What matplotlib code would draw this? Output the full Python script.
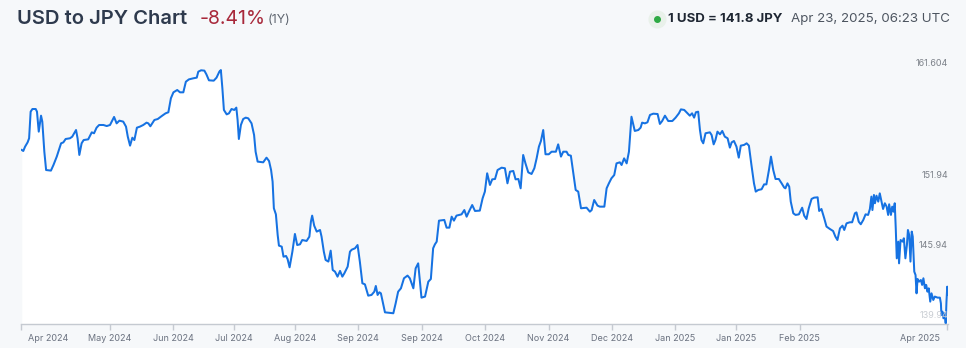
import matplotlib
matplotlib.use("Agg")
import matplotlib.pyplot as plt
import matplotlib.transforms as mtransforms
from matplotlib.lines import Line2D
import numpy as np
import pandas as pd

plt.rcParams['font.family'] = ['Inter', 'DejaVu Sans']

# Dados: dias desde 2024-04-23 e taxa USD/JPY
start = pd.Timestamp('2024-04-23')
days = [0.3, 0.9, 1.6, 2.6, 3.2, 3.8, 4.5, 5.8, 6.3, 7.0, 7.9, 8.4, 9.2, 9.9, 11.8, 12.8, 14.1, 15.8, 16.7, 17.6,
        19.3, 20.2, 21.7, 22.3, 23.0, 23.9, 24.7, 26.5, 27.9, 28.8, 29.8, 30.8, 32.5, 33.8, 35.1, 36.7, 37.7, 38.8,
        40.3, 41.4, 42.1, 43.0, 43.9, 44.7, 45.7, 46.9, 48.2, 49.5, 50.2, 51.0, 52.6, 53.9, 55.5, 57.0, 58.1, 59.1,
        60.1, 61.6, 62.7, 64.0, 65.0, 66.2, 67.9, 69.3, 69.9, 71.0, 72.3, 73.1, 74.1, 76.0, 77.1, 78.2, 78.8, 79.4,
        80.0, 81.1, 82.0, 83.0, 84.1, 84.9, 85.4, 85.9, 86.7, 87.6, 88.6, 89.6, 90.9, 91.9, 92.5, 93.3, 95.5, 96.8,
        97.8, 98.6, 99.2, 99.7, 100.5, 101.2, 101.7, 102.8, 103.5, 104.5, 105.1, 105.9, 107.0, 108.0, 108.9, 110.0,
        110.9, 112.6, 113.7, 114.3, 114.8, 115.6, 116.6, 117.9, 118.5, 119.4, 120.1, 121.2, 122.1, 122.9, 123.8,
        124.8, 125.8, 126.7, 127.5, 128.8, 129.7, 130.4, 131.7, 132.7, 133.6, 134.6, 135.6, 136.9, 138.2, 139.3,
        139.9, 140.6, 141.3, 141.9, 142.6, 143.5, 146.8, 147.7, 148.7, 149.8, 151.0, 152.4, 153.3, 154.7, 155.6,
        156.6, 157.3, 157.9, 159.3, 160.6, 161.6, 162.5, 163.2, 163.9, 164.8, 166.9, 167.8, 168.9, 169.8, 170.7,
        171.7, 173.7, 174.8, 175.7, 176.6, 177.9, 179.0, 180.9, 182.0, 182.9, 183.8, 184.9, 185.8, 186.9, 187.9,
        189.5, 190.8, 191.8, 192.8, 194.1, 195.0, 196.1, 197.0, 198.0, 198.9, 200.0, 201.3, 202.4, 203.3, 204.2,
        205.0, 205.9, 206.8, 208.1, 209.2, 210.9, 211.8, 212.9, 213.8, 215.1, 215.8, 216.8, 217.7, 218.7, 219.7,
        220.8, 223.0, 224.3, 225.0, 226.0, 227.3, 228.2, 230.0, 230.9, 231.8, 232.8, 233.9, 234.8, 236.1, 236.8,
        237.8, 238.8, 239.7, 240.7, 242.0, 243.4, 244.3, 244.9, 246.0, 247.0, 248.0, 249.3, 251.0, 251.9, 252.8,
        253.9, 255.2, 256.8, 258.1, 259.4, 260.2, 261.5, 262.4, 263.7, 264.6, 265.4, 266.1, 267.0, 267.7, 268.3,
        269.0, 269.9, 271.6, 272.3, 273.1, 273.8, 274.6, 275.6, 276.5, 277.5, 278.6, 279.5, 280.2, 281.1, 282.1,
        283.0, 283.8, 285.1, 286.1, 287.0, 288.0, 289.0, 289.7, 290.7, 292.0, 293.0, 293.9, 294.9, 295.7, 296.6,
        297.5, 298.8, 299.9, 300.9, 301.4, 302.2, 302.9, 303.5, 304.5, 305.4, 306.7, 308.0, 308.8, 309.7, 310.6,
        311.7, 312.7, 314.1, 314.7, 315.6, 316.7, 317.6, 318.9, 320.2, 321.1, 321.9, 322.9, 323.9, 324.6, 325.5,
        326.8, 327.7, 328.8, 329.4, 330.3, 331.1, 332.1, 333.0, 334.0, 334.7, 335.3, 335.7, 336.3, 336.7, 337.3,
        338.0, 338.6, 339.3, 339.9, 340.6, 341.3, 341.9, 342.3, 343.0, 343.5, 344.0, 344.5, 344.9, 345.3, 345.9,
        346.2, 346.8, 347.6, 348.1, 348.7, 349.3, 349.7, 350.2, 350.7, 351.2, 351.6, 352.2, 352.7, 353.1, 353.5,
        354.1, 354.8, 355.3, 355.8, 356.4, 356.9, 357.4, 357.9, 358.5, 359.0, 359.7, 360.3, 361.4, 362.3, 362.7,
        362.9, 363.3, 363.7, 364.2, 364.6, 364.9, 365.2, 365.4]
rate = [154.17, 154.08, 154.45, 154.82, 155.17, 157.45, 157.68, 157.68, 157.45, 155.74, 157.11, 156.60, 154.02,
        152.45, 152.40, 152.88, 153.60, 154.74, 154.82, 155.11, 155.17, 155.31, 155.88, 155.17, 153.74, 154.74,
        155.02, 155.08, 155.68, 155.60, 156.08, 156.31, 156.31, 156.22, 156.31, 157.00, 156.45, 156.68, 156.60,
        156.17, 155.31, 154.54, 155.22, 155.02, 156.08, 156.17, 156.31, 156.51, 156.45, 156.20, 156.74, 156.82,
        157.08, 157.31, 157.40, 158.60, 159.11, 159.31, 159.11, 159.11, 160.02, 160.22, 160.31, 160.37, 160.88,
        161.00, 160.97, 160.65, 160.14, 160.11, 160.37, 160.88, 161.02, 159.45, 157.60, 157.22, 157.31, 157.68,
        157.60, 157.80, 156.74, 155.11, 156.31, 156.82, 156.94, 156.88, 156.45, 155.45, 154.02, 153.17, 153.11,
        153.51, 153.22, 152.45, 151.45, 149.17, 148.65, 146.88, 145.97, 145.88, 145.02, 145.08, 144.82, 144.11,
        145.45, 146.97, 146.02, 146.08, 146.45, 146.37, 146.74, 148.02, 148.54, 147.68, 147.17, 147.31, 146.74,
        145.45, 144.74, 144.60, 145.54, 143.88, 143.74, 143.31, 143.80, 143.31, 143.60, 144.17, 145.45, 145.62,
        145.74, 146.02, 144.60, 142.74, 142.65, 141.68, 141.74, 142.02, 142.51, 141.74, 141.97, 141.88, 141.17,
        140.25, 140.17, 141.00, 142.02, 142.31, 143.17, 143.40, 143.17, 142.31, 144.02, 144.45, 142.88, 141.51,
        141.60, 142.88, 143.11, 145.74, 146.08, 146.31, 148.11, 148.17, 147.51, 147.51, 148.45, 148.11, 148.54,
        148.65, 149.02, 148.45, 148.88, 149.45, 148.94, 148.97, 150.02, 150.60, 152.17, 151.17, 151.65, 151.68,
        152.45, 152.65, 152.60, 151.31, 152.31, 152.37, 151.65, 151.68, 150.88, 153.74, 153.02, 152.25, 152.11,
        152.60, 153.45, 154.45, 154.94, 155.88, 153.80, 153.80, 154.02, 154.02, 154.65, 153.60, 154.02, 154.02,
        153.74, 153.68, 152.31, 150.74, 150.60, 149.17, 149.22, 148.88, 149.02, 149.88, 149.40, 149.31, 149.31,
        150.88, 151.31, 151.74, 152.02, 153.02, 153.11, 152.88, 153.45, 153.02, 154.02, 157.02, 155.80, 155.88,
        156.08, 156.51, 156.45, 156.54, 157.17, 157.28, 157.25, 156.40, 156.65, 157.11, 156.65, 156.65, 156.94,
        157.31, 157.65, 157.60, 157.40, 157.11, 157.31, 156.94, 157.40, 157.45, 155.88, 155.02, 154.74, 155.60,
        155.68, 155.45, 154.65, 155.02, 155.74, 155.51, 155.80, 155.31, 155.17, 154.37, 154.82, 154.94, 154.45,
        153.51, 154.54, 154.60, 154.74, 154.54, 152.88, 151.31, 150.60, 150.74, 150.80, 151.22, 151.22, 152.45,
        153.60, 152.45, 151.68, 151.68, 151.31, 150.95, 150.88, 151.31, 151.02, 149.74, 148.74, 148.60, 148.65,
        149.22, 148.54, 148.25, 149.17, 149.97, 150.08, 150.11, 148.94, 149.11, 148.31, 147.60, 147.40, 147.22,
        146.74, 146.45, 147.45, 147.68, 147.31, 147.88, 147.97, 147.97, 148.74, 148.82, 148.02, 147.80, 148.17,
        148.65, 148.60, 149.11, 150.17, 149.02, 150.31, 149.60, 150.25, 149.74, 150.45, 149.74, 149.11, 149.60,
        149.31, 148.60, 149.51, 148.60, 149.31, 148.88, 149.60, 147.45, 144.88, 146.31, 144.45, 146.45, 146.31,
        146.60, 144.88, 146.02, 147.31, 146.88, 144.60, 147.17, 146.74, 143.74, 143.45, 141.88, 143.11, 142.88,
        143.02, 142.60, 143.17, 142.31, 142.60, 142.02, 142.31, 141.17, 141.88, 141.31, 141.60, 141.51, 141.51,
        141.02, 140.02, 140.31, 139.74, 140.17, 139.31, 141.17, 142.45, 141.80]

# Eixo x: posicao dos ticks (dias) e rotulos
tick_days = [0, 35, 60, 84, 108, 133, 158, 183, 208, 233, 258, 282, 307, 365]
tick_labels = ['Apr 2024', 'May 2024', 'Jun 2024', 'Jul 2024', 'Aug 2024', 'Sep 2024', 'Sep 2024',
               'Oct 2024', 'Nov 2024', 'Dec 2024', 'Jan 2025', 'Jan 2025', 'Feb 2025', 'Apr 2025']
y_levels = [161.604, 151.94, 145.94, 139.94]

dates = start + pd.to_timedelta(days, unit='D')
tick_dates = start + pd.to_timedelta(tick_days, unit='D')

BG = '#f6f8fa'
BLUE = '#1672e2'
y0, y1 = 139.25, 162.31

fig = plt.figure(figsize=(9.66, 3.48), dpi=100, facecolor=BG)
ax = fig.add_axes([21/966, 1 - 324/348, (948 - 21)/966, (324 - 55)/348])
ax.set_facecolor(BG)

ax.fill_between(dates, rate, y0, color='white', linewidth=0)
ax.plot(dates, rate, color=BLUE, linewidth=1.45, solid_joinstyle='round')

ax.set_xlim(start, start + pd.Timedelta(days=365.5))
ax.set_ylim(y0, y1)

for s in ['top', 'right', 'left']:
    ax.spines[s].set_visible(False)
ax.spines['bottom'].set_color('#c5cad1')
ax.spines['bottom'].set_linewidth(1)
ax.set_yticks([])
ax.set_xticks(tick_dates)
ax.set_xticklabels(tick_labels)
ax.tick_params(axis='x', length=4, width=1, color='#c5cad1', labelsize=6.5,
               labelcolor='#6b7280', pad=3)

lbls = ax.get_xticklabels()
lbls[0].set_ha('left')
lbls[0].set_transform(lbls[0].get_transform() + mtransforms.ScaledTranslation(7/100, 0, fig.dpi_scale_trans))
lbls[-1].set_ha('right')
lbls[-1].set_transform(lbls[-1].get_transform() + mtransforms.ScaledTranslation(-7/100, 0, fig.dpi_scale_trans))

# rotulos do eixo y dentro do grafico
trans = mtransforms.blended_transform_factory(ax.transAxes, ax.transData)
for v in y_levels:
    cor = '#c9cdd3' if v == y_levels[-1] else '#7b8088'
    ax.text(1.0, v, f'{v:g}', transform=trans, ha='right', va='center', fontsize=6.5, color=cor)

# cabecalho
yt = 1 - 19/348
fig.text(17/966, yt, 'USD to JPY Chart', fontsize=14.5, fontweight=600, color='#2e3a4d', va='center')
fig.text(200/966, yt, '-8.41%', fontsize=14, color='#a8283a', va='center')
fig.text(268/966, yt - 0.004, '(1Y)', fontsize=9, color='#5f6670', va='center')

fig.add_artist(Line2D([657/966], [yt], marker='o', markersize=12, color='#e9f1ea', transform=fig.transFigure))
fig.add_artist(Line2D([657/966], [yt], marker='o', markersize=4, color='#2eaa44', transform=fig.transFigure))
fig.text(668/966, yt, '1 USD = 141.8 JPY', fontsize=9.5, fontweight='bold', color='#1f2733', va='center')
fig.text(791/966, yt, 'Apr 23, 2025, 06:23 UTC', fontsize=9.6, color='#4d5560', va='center')

fig.savefig('out.png', dpi=100, facecolor=BG)
